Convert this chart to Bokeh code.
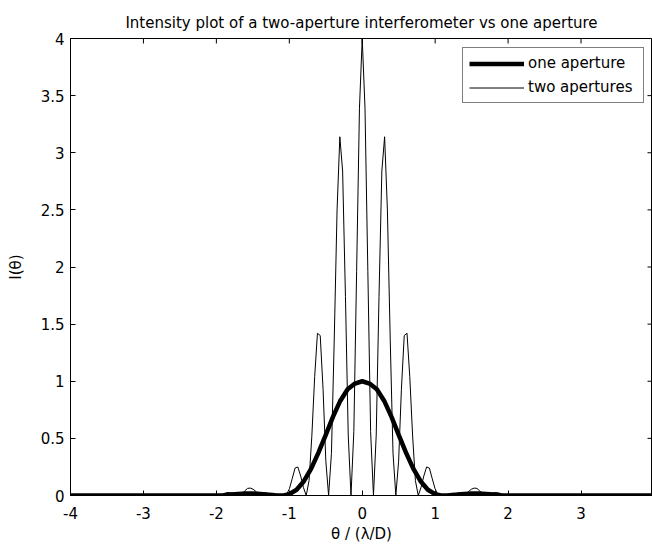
from bokeh.plotting import figure
from bokeh.models import Legend, LegendItem, Range1d, ColumnDataSource, FixedTicker
from bokeh.embed import file_html
from bokeh.resources import INLINE
import math

# ---- data ----
ONE_X = [-4.0, -2.0, -1.9, -1.8, -1.7, -1.6, -1.5, -1.4, -1.3, -1.2, -1.08,
         -1.0, -0.9, -0.8, -0.7, -0.6, -0.5, -0.4, -0.3, -0.2, -0.1, 0.0,
         0.1, 0.2, 0.3, 0.4, 0.5, 0.6, 0.7, 0.8, 0.9, 1.0,
         1.08, 1.2, 1.3, 1.4, 1.5, 1.6, 1.7, 1.8, 1.9, 2.0, 4.0]
ONE_Y = [0.0, 0.0, 0.003, 0.008, 0.014, 0.018, 0.018, 0.014, 0.008, 0.003, 0.0,
         0.012, 0.05, 0.125, 0.235, 0.375, 0.53, 0.69, 0.83, 0.93, 0.98, 1.0,
         0.98, 0.93, 0.83, 0.69, 0.53, 0.375, 0.235, 0.125, 0.05, 0.012,
         0.0, 0.003, 0.008, 0.014, 0.018, 0.018, 0.014, 0.008, 0.003, 0.0, 0.0]

TWO_X = [-4.0, -1.996, -1.957, -1.919, -1.880, -1.842, -1.804, -1.765, -1.727, -1.689,
         -1.650, -1.612, -1.573, -1.535, -1.497, -1.458, -1.420, -1.382, -1.343, -1.305,
         -1.266, -1.228, -1.190, -1.151, -1.113, -1.075, -1.036, -0.998, -0.959, -0.921,
         -0.883, -0.844, -0.806, -0.768, -0.729, -0.691, -0.652, -0.614, -0.576, -0.537,
         -0.499, -0.461, -0.422, -0.384, -0.345, -0.307, -0.269, -0.230, -0.192, -0.154,
         -0.115, -0.077, -0.038, 0.000,
         0.038, 0.077, 0.115, 0.154, 0.192, 0.230, 0.269, 0.307, 0.345, 0.384,
         0.422, 0.461, 0.499, 0.537, 0.576, 0.614, 0.652, 0.691, 0.729, 0.768,
         0.806, 0.844, 0.883, 0.921, 0.959, 0.998, 1.036, 1.075, 1.113, 1.151,
         1.190, 1.228, 1.266, 1.305, 1.343, 1.382, 1.420, 1.458, 1.497, 1.535,
         1.573, 1.612, 1.650, 1.689, 1.727, 1.765, 1.804, 1.842, 1.880, 1.919,
         1.957, 1.996, 4.0]
TWO_Y = [0.0, 0.0, 0.003, 0.01, 0.02, 0.026, 0.024, 0.016, 0.006, 0.0,
         0.012, 0.04, 0.062, 0.065, 0.055, 0.035, 0.012, 0.0, 0.004, 0.01,
         0.016, 0.018, 0.015, 0.008, 0.002, 0.0, 0.01, 0.06, 0.15, 0.24,
         0.25, 0.17, 0.07, 0.0, 0.13, 0.52, 1.04, 1.42, 1.40, 0.93,
         0.30, 0.0, 0.37, 1.36, 2.50, 3.14, 2.84, 1.74, 0.53, 0.0,
         0.56, 1.96, 3.39, 4.00,
         3.39, 1.96, 0.56, 0.0, 0.53, 1.74, 2.84, 3.14, 2.50, 1.36,
         0.37, 0.0, 0.30, 0.93, 1.40, 1.42, 1.04, 0.52, 0.13, 0.0,
         0.07, 0.17, 0.25, 0.24, 0.15, 0.06, 0.01, 0.0, 0.002, 0.008,
         0.015, 0.018, 0.016, 0.01, 0.004, 0.0, 0.012, 0.035, 0.055, 0.065,
         0.062, 0.04, 0.012, 0.0, 0.006, 0.016, 0.024, 0.026, 0.02, 0.01,
         0.003, 0.0, 0.0]

X_TICKS = [-4, -3, -2, -1, 0, 1, 2, 3, 4]
X_LABELS = ["-4", "-3", "-2", "-1", "0", "1", "2", "3", "4"]
Y_TICKS = [0, 0.5, 1, 1.5, 2, 2.5, 3, 3.5, 4]
Y_LABELS = ["0", "0.5", "1", "1.5", "2", "2.5", "3", "3.5", "4"]

TITLE = "Intensity plot of a two-aperture interferometer vs one aperture"
SERIES = ["one aperture", "two apertures"]

FONT = "DejaVu Sans"
FS = "15px"

X0, X1 = -4, 3.98
Y0, Y1 = 0, 4

p = figure(width=652, height=545, x_range=Range1d(X0, X1), y_range=Range1d(Y0, Y1),
           output_backend="svg", toolbar_location=None,
           min_border_left=70, min_border_right=0, min_border_top=38, min_border_bottom=50)
p.title.text = TITLE
p.title.align = "center"
p.title.text_font = FONT
p.title.text_font_size = FS
p.title.text_font_style = "normal"
p.title.text_color = "black"
p.title.standoff = 13
p.xgrid.visible = False
p.ygrid.visible = False
p.outline_line_color = "black"
p.background_fill_color = "white"
p.border_fill_color = "white"

src1 = ColumnDataSource(dict(x=ONE_X, y=ONE_Y))
src2 = ColumnDataSource(dict(x=TWO_X, y=TWO_Y))
r2 = p.line("x", "y", source=src2, line_color="black", line_width=1)
r1 = p.line("x", "y", source=src1, line_color="black", line_width=4.5)

xt = FixedTicker(ticks=X_TICKS)
yt = FixedTicker(ticks=Y_TICKS)

xa = p.xaxis[0]
ya = p.yaxis[0]
for ax, ticker, labels in ((xa, xt, X_LABELS), (ya, yt, Y_LABELS)):
    ax.ticker = ticker
    ax.major_label_overrides = {t: l for t, l in zip(ticker.ticks, labels)}
    ax.major_tick_in = 5
    ax.major_tick_out = 0
    ax.minor_tick_line_color = None
    ax.axis_line_color = "black"
    ax.major_tick_line_color = "black"
    ax.major_label_text_font = FONT
    ax.major_label_text_font_size = FS
    ax.major_label_text_color = "black"
    ax.axis_label_text_font = FONT
    ax.axis_label_text_font_size = FS
    ax.axis_label_text_font_style = "normal"
    ax.axis_label_text_color = "black"
xa.major_label_standoff = 11
ya.major_label_standoff = 6
xa.axis_label = "θ / (λ/D)"
ya.axis_label = "I(θ)"
xa.axis_label_standoff = 3
ya.axis_label_standoff = 13

# MATLAB-style box ticks on the top and right edges (inward)
top_ticks = [t for t in X_TICKS if X0 <= t <= X1]
p.ray(x=top_ticks, y=[Y1] * len(top_ticks), length=5, length_units="screen",
      angle=-math.pi / 2, line_color="black", line_width=1)
p.ray(x=[X1] * len(Y_TICKS), y=Y_TICKS, length=5, length_units="screen",
      angle=math.pi, line_color="black", line_width=1)

legend = Legend(items=[LegendItem(label=SERIES[0], renderers=[r1]),
                       LegendItem(label=SERIES[1], renderers=[r2])],
                location=(392, 392))
legend.border_line_color = "black"
legend.border_line_width = 1
legend.background_fill_color = "white"
legend.background_fill_alpha = 1
legend.glyph_width = 55
legend.glyph_height = 17
legend.label_height = 17
legend.label_width = 109
legend.spacing = 6
legend.padding = 6
legend.margin = 0
legend.label_standoff = 4
legend.label_text_font = FONT
legend.label_text_font_size = FS
legend.label_text_color = "black"
p.add_layout(legend)

open("out.html", "w").write(file_html(p, INLINE))
